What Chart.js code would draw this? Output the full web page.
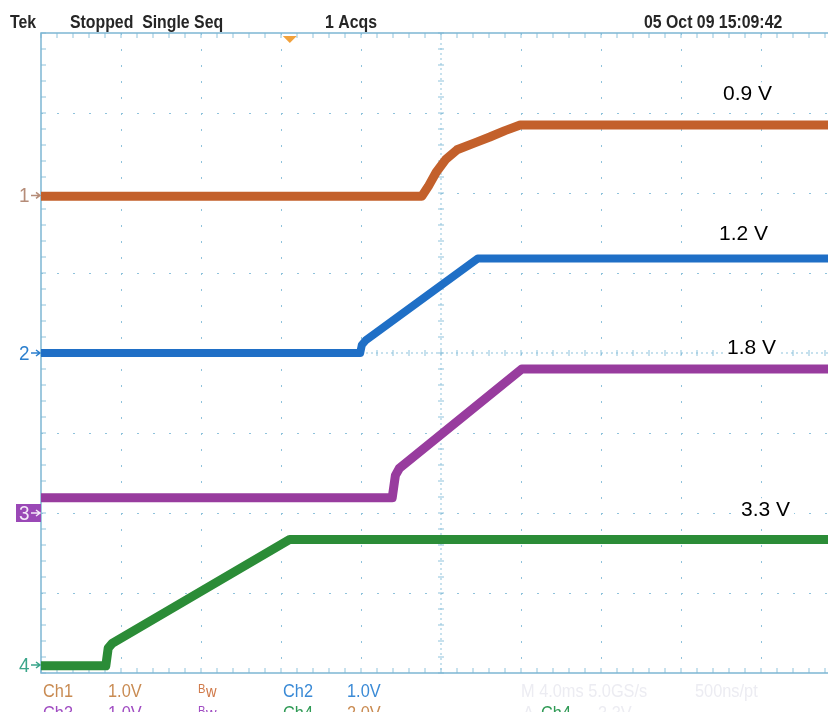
<!DOCTYPE html>
<html>
<head>
<meta charset="utf-8">
<script src="https://cdn.jsdelivr.net/npm/chart.js@4.4.1/dist/chart.umd.min.js"></script>
<style>
  html, body { margin: 0; padding: 0; background: #fff; overflow: hidden; }
  canvas { display: block; }
</style>
</head>
<body>
<canvas id="scope" width="828" height="712"></canvas>
<script>
// x = time in screen divisions (0..10), y = divisions from screen centre (-4..4)
const ch1X = [0, 4.76, 4.84, 4.94, 5.06, 5.2, 5.43, 5.61, 5.8, 5.99, 9.84];
const ch1Y = [1.96, 1.96, 2.08, 2.26, 2.42, 2.54, 2.63, 2.7, 2.78, 2.85, 2.85];
const ch2X = [0, 3.99, 4.01, 4.06, 5.46, 9.84];
const ch2Y = [0, 0, 0.1, 0.16, 1.18, 1.18];
const ch3X = [0, 4.39, 4.43, 4.48, 6.01, 9.84];
const ch3Y = [-1.81, -1.81, -1.53, -1.44, -0.2, -0.2];
const ch4X = [0, 0.81, 0.84, 0.89, 3.11, 9.84];
const ch4Y = [-3.91, -3.91, -3.69, -3.63, -2.33, -2.33];

const railLabels = ['0.9 V', '1.2 V', '1.8 V', '3.3 V'];
const channelNames = ['1', '2', '3', '4'];
const groundLevels = [1.97, 0, -2, -3.9];

const toPoints = (xs, ys) => xs.map((x, i) => ({ x, y: ys[i] }));

const GRID = '#8fc3dc';
const NARROW = '"Liberation Sans Narrow", "Liberation Sans", Arial, sans-serif';

// scope-style condensed text
function narrow(ctx, t, px, py, color, sx = 0.86) {
  ctx.save();
  ctx.translate(px, py);
  ctx.scale(sx, 1);
  ctx.fillStyle = color;
  ctx.fillText(t, 0, 0);
  ctx.restore();
}

// graticule: border, centre crosshair, tick marks
const graticule = {
  id: 'graticule',
  beforeDatasetsDraw(chart) {
    const { ctx, chartArea: a, scales: { x, y } } = chart;
    const cx = x.getPixelForValue(5);
    const cy = y.getPixelForValue(0);
    ctx.save();
    ctx.strokeStyle = GRID;
    ctx.lineWidth = 1;

    // centre lines, finely dotted
    ctx.setLineDash([2, 3]);
    ctx.beginPath();
    ctx.moveTo(cx, a.top); ctx.lineTo(cx, a.bottom);
    ctx.moveTo(a.left, cy); ctx.lineTo(a.right, cy);
    ctx.stroke();
    ctx.setLineDash([]);

    // small ticks every fifth of a division
    const step = (x.getPixelForValue(1) - x.getPixelForValue(0)) / 5;
    ctx.beginPath();
    for (let px = a.left; px <= a.right; px += step) {
      ctx.moveTo(px, cy - 3); ctx.lineTo(px, cy + 3);
      ctx.moveTo(px, a.top); ctx.lineTo(px, a.top + 5);
      ctx.moveTo(px, a.bottom); ctx.lineTo(px, a.bottom - 5);
    }
    for (let py = a.top; py <= a.bottom + 0.5; py += step) {
      ctx.moveTo(cx - 3, py); ctx.lineTo(cx + 3, py);
      ctx.moveTo(a.left, py); ctx.lineTo(a.left + 5, py);
    }
    ctx.stroke();

    // frame (right side is off screen)
    ctx.strokeStyle = '#7db6d3';
    ctx.lineWidth = 1.5;
    ctx.beginPath();
    ctx.moveTo(a.right, a.top); ctx.lineTo(a.left, a.top);
    ctx.lineTo(a.left, a.bottom); ctx.lineTo(a.right, a.bottom);
    ctx.stroke();
    ctx.restore();
  },
  afterDraw(chart) {
    const { ctx, chartArea: a, scales: { x, y } } = chart;
    ctx.save();

    // trigger position marker
    const tx = x.getPixelForValue(3.11);
    ctx.fillStyle = '#f2a23c';
    ctx.beginPath();
    ctx.moveTo(tx - 7, a.top + 3); ctx.lineTo(tx + 7, a.top + 3); ctx.lineTo(tx, a.top + 10);
    ctx.closePath(); ctx.fill();

    // ground reference markers
    const markColors = ['#b58c78', '#2b7fce', '#f4e8f8', '#3aa58a'];
    ctx.font = '21px ' + NARROW;
    ctx.textBaseline = 'middle';
    ctx.textAlign = 'left';
    groundLevels.forEach((g, i) => {
      const py = y.getPixelForValue(g);
      if (i === 2) {
        ctx.fillStyle = '#9a48b6';
        ctx.fillRect(a.left - 25, py - 9, 25, 18);
      }
      narrow(ctx, channelNames[i], a.left - 22, py + 1, markColors[i], 0.9);
      ctx.strokeStyle = markColors[i];
      ctx.lineWidth = 1.5;
      ctx.beginPath();
      ctx.moveTo(a.left - 10, py); ctx.lineTo(a.left - 1, py);
      ctx.moveTo(a.left - 5, py - 3); ctx.lineTo(a.left - 1, py); ctx.lineTo(a.left - 5, py + 3);
      ctx.stroke();
    });

    // rail labels
    const anchors = [[8.525, 3.16], [8.475, 1.41], [8.575, -0.01], [8.75, -2.04]];
    ctx.font = '21px "Liberation Sans", Arial, sans-serif';
    ctx.textBaseline = 'alphabetic';
    railLabels.forEach((t, i) => {
      const px = x.getPixelForValue(anchors[i][0]);
      const py = y.getPixelForValue(anchors[i][1]);
      const w = ctx.measureText(t).width;
      ctx.fillStyle = '#ffffff';
      ctx.fillRect(px - 4, py - 18, w + 8, 22);
      ctx.fillStyle = '#000000';
      ctx.fillText(t, px, py);
    });

    // header line
    ctx.font = 'bold 18px ' + NARROW;
    narrow(ctx, 'Tek', 10, 28, '#262626', 0.88);
    narrow(ctx, 'Stopped  Single Seq', 70, 28, '#262626', 0.88);
    narrow(ctx, '1 Acqs', 325, 28, '#262626', 0.88);
    narrow(ctx, '05 Oct 09 15:09:42', 644, 28, '#262626', 0.88);

    // channel settings footer
    ctx.font = '19px ' + NARROW;
    const row1 = 697, row2 = 719;
    narrow(ctx, 'Ch1', 43, row1, '#c98b52');
    narrow(ctx, '1.0V', 108, row1, '#c98b52');
    narrow(ctx, 'Ch2', 283, row1, '#3a8ad6');
    narrow(ctx, '1.0V', 347, row1, '#3a8ad6');
    narrow(ctx, 'Ch3', 43, row2, '#a04cc2');
    narrow(ctx, '1.0V', 108, row2, '#a04cc2');
    narrow(ctx, 'Ch4', 283, row2, '#2f9a55');
    narrow(ctx, '2.0V', 347, row2, '#c98b52');
    narrow(ctx, 'M 4.0ms 5.0GS/s', 521, row1, '#ececf2');
    narrow(ctx, '500ns/pt', 695, row1, '#ececf2');
    narrow(ctx, 'A', 523, row2, '#ececf2');
    narrow(ctx, '3.3V', 598, row2, '#ececf2');
    narrow(ctx, 'Ch4', 541, row2, '#2f9a55');
    ctx.font = '13px ' + NARROW;
    narrow(ctx, 'B', 198, row1 - 4, '#d07a4a');
    narrow(ctx, 'B', 198, row2 - 4, '#a04cc2');
    ctx.font = '17px ' + NARROW;
    narrow(ctx, 'w', 206, row1, '#d07a4a');
    narrow(ctx, 'w', 206, row2, '#a04cc2');
    ctx.restore();
  }
};

const trace = (label, xs, ys, color, width) => ({
  label,
  data: toPoints(xs, ys),
  borderColor: color,
  backgroundColor: color,
  borderWidth: width,
  pointRadius: 0,
  tension: 0,
  borderJoinStyle: 'round'
});

new Chart(document.getElementById('scope').getContext('2d'), {
  type: 'line',
  data: {
    datasets: [
      trace('Ch1', ch1X, ch1Y, '#c3602b', 9),
      trace('Ch2', ch2X, ch2Y, '#1f6fc6', 8),
      trace('Ch3', ch3X, ch3Y, '#983c9e', 9),
      trace('Ch4', ch4X, ch4Y, '#2b8c37', 9)
    ]
  },
  options: {
    responsive: false,
    animation: false,
    events: [],
    layout: { padding: { left: 41, top: 33, right: 0, bottom: 39 } },
    plugins: { legend: { display: false }, tooltip: { enabled: false } },
    scales: {
      x: {
        type: 'linear',
        min: 0,
        max: 9.8375,
        ticks: { display: false, stepSize: 1 },
        grid: {
          drawTicks: false,
          lineWidth: 1,
          color: (c) => (c.tick && (c.tick.value === 5 || c.tick.value === 0) ? 'transparent' : GRID)
        },
        border: { display: false, dash: [2, 14] }
      },
      y: {
        type: 'linear',
        min: -4,
        max: 4,
        ticks: { display: false, stepSize: 1 },
        grid: {
          drawTicks: false,
          lineWidth: 1,
          color: (c) => (c.tick && [0, 4, -4].includes(c.tick.value) ? 'transparent' : GRID)
        },
        border: { display: false, dash: [2, 14] }
      }
    }
  },
  plugins: [graticule]
});
</script>
</body>
</html>
